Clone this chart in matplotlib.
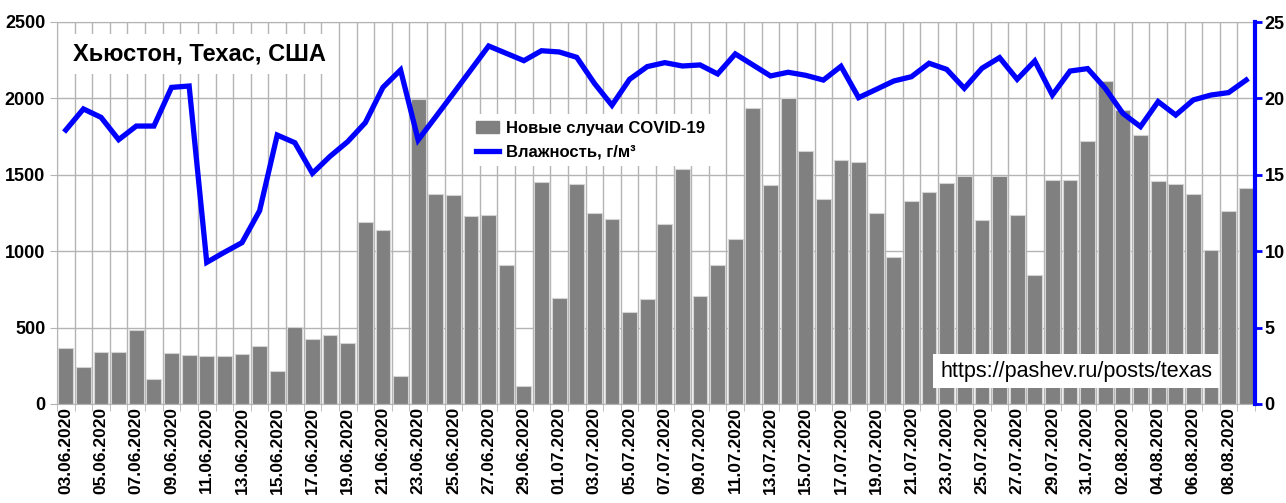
import matplotlib
matplotlib.use("Agg")
import matplotlib.pyplot as plt
import numpy as np
import pandas as pd
from matplotlib.patches import Patch
from matplotlib.lines import Line2D

plt.rcParams['font.family'] = ['Liberation Sans', 'DejaVu Sans']

dates = pd.date_range("2020-06-03", "2020-08-09", freq="D")
date_labels = [d.strftime("%d.%m.%Y") for d in dates]

new_cases = [364, 244, 338, 340, 484, 166, 334, 323, 316, 314, 327, 382, 214, 506,
             428, 454, 399, 1189, 1137, 181, 1996, 1377, 1366, 1233, 1239, 910, 116,
             1455, 696, 1440, 1252, 1209, 600, 687, 1180, 1536, 705, 910, 1082, 1939,
             1431, 2000, 1658, 1344, 1599, 1586, 1252, 964, 1326, 1385, 1444, 1494,
             1204, 1494, 1235, 846, 1464, 1466, 1723, 2116, 1922, 1758, 1462, 1440,
             1372, 1008, 1265, 1416]

humidity = [17.93, 19.31, 18.76, 17.30, 18.19, 18.19, 20.72, 20.81, 9.27, 9.93, 10.56,
            12.65, 17.60, 17.10, 15.10, 16.21, 17.17, 18.41, 20.72, 21.86, 17.28, 18.80,
            20.33, 21.88, 23.43, 22.95, 22.47, 23.12, 23.04, 22.69, 20.99, 19.55, 21.25,
            22.08, 22.34, 22.12, 22.19, 21.60, 22.91, 22.19, 21.47, 21.71, 21.51, 21.20,
            22.10, 20.05, 20.59, 21.14, 21.42, 22.30, 21.90, 20.66, 21.97, 22.67, 21.25,
            22.45, 20.22, 21.79, 21.95, 20.66, 19.02, 18.15, 19.79, 18.91, 19.90, 20.22,
            20.38, 21.20]

title = "Хьюстон, Техас, США"
legend_cases = "Новые случаи COVID-19"
legend_hum = "Влажность, г/м³"
watermark = "https://pashev.ru/posts/texas"

fig = plt.figure(figsize=(12.86, 5.03), dpi=100)
ax = fig.add_axes([57/1286, 1-404/503, (1255-57)/1286, (404-22)/503])
x = np.arange(len(new_cases))

ax.bar(x, new_cases, width=0.84, color='#808080', edgecolor='#d4d4d4', linewidth=0.8, zorder=2)
ax.set_xlim(-0.5, len(new_cases)-0.5)
ax.set_ylim(0, 2500)
ax.set_yticks(np.arange(0, 2501, 500))
ax.set_axisbelow(True)

ax.set_xticks(x[::2])
ax.set_xticklabels(date_labels[::2], rotation=90, fontsize=12.5, fontweight='bold')
ax.set_xticks(np.arange(-0.5, len(new_cases), 1), minor=True)
ax.tick_params(axis='x', which='major', length=0, pad=2)
ax.tick_params(axis='x', which='minor', length=5, color='#b4b4b4')
ax.tick_params(axis='y', length=5, color='#b4b4b4', labelsize=13)
for lbl in ax.get_yticklabels():
    lbl.set_fontweight('bold')
ax.grid(axis='y', color='#b4b4b4', linewidth=1)
ax.grid(axis='x', which='minor', color='#b4b4b4', linewidth=1)
for s in ax.spines.values():
    s.set_color('#b4b4b4')

ax2 = ax.twinx()
ax2.plot(x, humidity, color='#0000ff', linewidth=3.8, zorder=3, solid_joinstyle='miter')
ax2.set_ylim(0, 25)
ax2.set_yticks(np.arange(0, 26, 5))
ax2.tick_params(axis='y', colors='#0000ff', length=5, width=2, labelsize=13, pad=2)
for lbl in ax2.get_yticklabels():
    lbl.set_color('black')
    lbl.set_fontweight('bold')
ax2.spines['right'].set_color('#0000ff')
ax2.spines['right'].set_linewidth(3)
for k in ['left', 'top', 'bottom']:
    ax2.spines[k].set_visible(False)

ax2.text(0.013, 0.916, title, transform=ax.transAxes, fontsize=17, fontweight='bold',
         va='center', ha='left', zorder=5,
         bbox=dict(facecolor='white', edgecolor='none', pad=6))

handles = [Patch(facecolor='#808080', edgecolor='#808080'),
           Line2D([0], [0], color='#0000ff', linewidth=3.8)]
leg = ax2.legend(handles, [legend_cases, legend_hum], loc='upper left',
                 bbox_to_anchor=(0.337, 0.78), frameon=True, fancybox=False,
                 prop={'weight': 'bold', 'size': 12}, handlelength=1.4,
                 handletextpad=0.4, labelspacing=0.5, borderpad=0.4)
leg.get_frame().set_facecolor('white')
leg.get_frame().set_edgecolor('none')
leg.get_frame().set_alpha(1)

ax2.text(1076, 503 - 371, watermark, transform=None, fontsize=15.5, va='center', ha='center',
         zorder=5, bbox=dict(facecolor='white', edgecolor='none', pad=5))

fig.savefig("out.png", dpi=100)
